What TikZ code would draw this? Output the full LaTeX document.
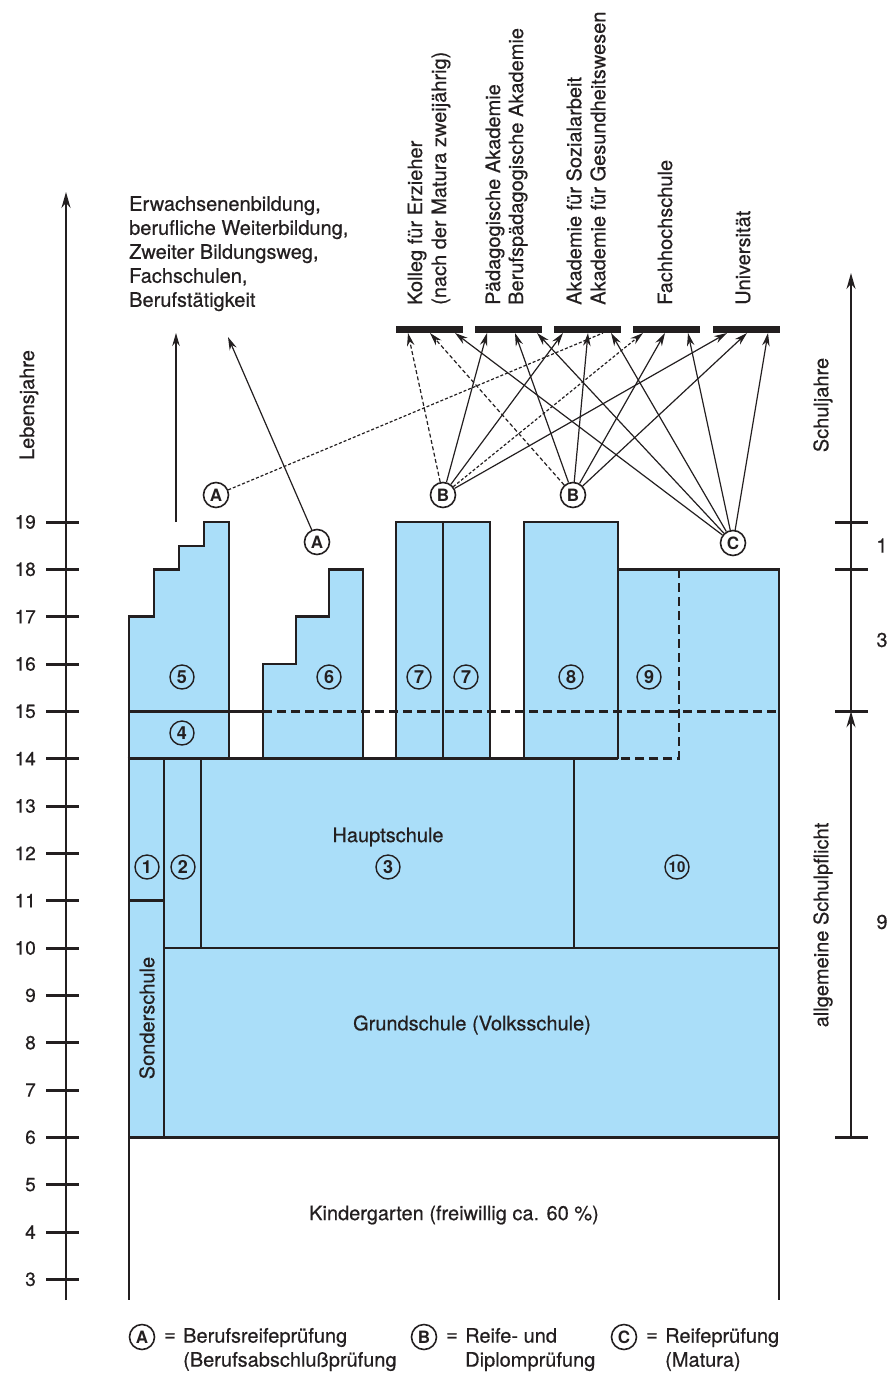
\documentclass[tikz,border=0pt]{standalone}
\usepackage{fontspec}
\setmainfont{TeX Gyre Heros}[FakeBold=0.5]
\newfontfamily\circfont{TeX Gyre Heros Bold}
\usetikzlibrary{arrows.meta}
\definecolor{schulblau}{RGB}{170,222,249}
\definecolor{ink}{RGB}{35,31,32}
\begin{document}
\begin{tikzpicture}[x=1pt,y=-1pt,
  every node/.style={text=ink, inner sep=0pt},
  txt/.style={font=\fontsize{20}{24}\selectfont},
  axnum/.style={font=\fontsize{19}{22}\selectfont, anchor=east},
  edge/.style={draw=ink, line width=2.6pt, line join=miter},
  dashedge/.style={draw=ink, line width=2.6pt, dash pattern=on 9pt off 5pt},
  letter/.style={circle, draw=ink, line width=1.6pt, minimum size=25pt, font=\fontsize{17}{17}\circfont},
  numcirc/.style={circle, draw=ink, line width=1.4pt, minimum size=24pt, font=\fontsize{18}{18}\circfont},
  bar/.style={fill=ink, minimum width=67pt, minimum height=7pt},
  conn/.style={draw=ink, line width=1.2pt, -{Stealth[length=13pt,width=7.5pt]}},
  dconn/.style={conn, dash pattern=on 4pt off 2.5pt},
  dotconn/.style={conn, dash pattern=on 3pt off 2pt},
  axis/.style={draw=ink, line width=2pt},
  axarrow/.style={axis, -{Stealth[length=16pt,width=9pt]}},
  tick/.style={draw=ink, line width=3pt},
  rottxt/.style={txt, rotate=90, anchor=west},
]
\useasboundingbox (0,0) rectangle (887,1373);

% ---------- fills ----------
\fill[schulblau] (129,758.7)--(129,616.7)--(154,616.7)--(154,569.3)--(179,569.3)--(179,546)--(204,546)--(204,522)--(229,522)--(229,758.7)--cycle;
\fill[schulblau] (263,758.7)--(263,664)--(296,664)--(296,616.7)--(329,616.7)--(329,569.3)--(363,569.3)--(363,758.7)--cycle;
\fill[schulblau] (396,522) rectangle (490,758.7);
\fill[schulblau] (524,522) rectangle (618,758.7);
\fill[schulblau] (618,569.3) rectangle (779,758.7);
\fill[schulblau] (129,758.7) rectangle (779,1137.3);

% ---------- outlines ----------
\draw[edge] (129,758.7)--(129,616.7)--(154,616.7)--(154,569.3)--(179,569.3)--(179,546)--(204,546)--(204,522)--(229,522)--(229,758.7);
\draw[edge] (263,758.7)--(263,664)--(296,664)--(296,616.7)--(329,616.7)--(329,569.3)--(363,569.3)--(363,758.7);
\draw[edge] (396,758.7)--(396,522)--(490,522)--(490,758.7);
\draw[edge] (443,522)--(443,758.7);
\draw[edge] (524,758.7)--(524,522)--(618,522)--(618,758.7);
\draw[edge] (618,569.3)--(779,569.3)--(779,1300);
\draw[edge] (127.7,758.7)--(618,758.7);
\draw[edge] (129,711.3)--(263,711.3);
\draw[dashedge] (263,711.3)--(779,711.3);
\draw[dashedge] (679,569.3)--(679,758.7)--(618,758.7);
\draw[edge] (129,758.7)--(129,1300);
\draw[edge] (164,758.7)--(164,1137.3);
\draw[edge] (129,900.7)--(164,900.7);
\draw[edge] (201,758.7)--(201,948);
\draw[edge] (574,758.7)--(574,948);
\draw[edge] (164,948)--(779,948);
\draw[edge] (129,1137.3)--(779,1137.3);

% ---------- box labels ----------
\node[numcirc] (n5) at (182,677) {5};
\node[numcirc] (n4) at (182,733) {4};
\node[numcirc] (n6) at (329,677) {6};
\node[numcirc] (n7a) at (419,677) {7};
\node[numcirc] (n7b) at (466,677) {7};
\node[numcirc] (n8) at (571,677) {8};
\node[numcirc] (n9) at (649,677) {9};
\node[numcirc] (n1) at (147,867) {1};
\node[numcirc] (n2) at (183,867) {2};
\node[numcirc] (n3) at (388,867) {3};
\node[numcirc, font=\fontsize{15}{15}\circfont] (n10) at (677,867) {10};
\node[txt] (haupt) at (388,837) {Hauptschule};
\node[txt] (grund) at (472,1025) {Grundschule (Volksschule)};
\node[txt, rotate=90] (sonder) at (147,1018) {Sonderschule};
\node[txt] (kiga) at (454,1215) {Kindergarten (freiwillig ca. 60 \%)};

% ---------- left axis ----------
\coordinate (laxb) at (66,1300);
\coordinate (laxt) at (66,192);
\draw[axarrow] (laxb) -- (laxt);
\foreach \a/\yy in {19/522,18/569.3,17/616.7,16/664,15/711.3,14/758.7,13/806,12/853.3,11/900.7,10/948,9/995.3,8/1042.7,7/1090,6/1137.3,5/1184.7,4/1232,3/1279.3}{
  \draw[tick] (46,\yy) -- (79,\yy);
  \node[axnum] (age\a) at (36,\yy) {\a};
}
\node[txt, rotate=90] (lebens) at (29,405) {Lebensjahre};

% ---------- right axis ----------
\coordinate (r19) at (851,522);
\coordinate (r15) at (851,711.3);
\coordinate (r6) at (851,1137.3);
\coordinate (rtop) at (851,273);
\draw[axis] (r19) -- (r15);
\draw[axarrow] (r19) -- (rtop);
\draw[axarrow] (r6) -- (r15);
\foreach \yy in {522,569.3,711.3,1137.3}{
  \draw[tick] (835,\yy) -- (868,\yy);
}
\node[txt] (sj1) at (882,545.5) {1};
\node[txt] (sj3) at (882,640) {3};
\node[txt] (sj9) at (882,922) {9};
\node[txt, rotate=90] (schuljahre) at (823,405) {Schuljahre};
\node[txt, rotate=90] (pflicht) at (823,925) {allgemeine Schulpflicht};

% ---------- top text ----------
\node[txt, anchor=north west, align=left] (erw) at (129,196) {Erwachsenenbildung,\\berufliche Weiterbildung,\\Zweiter Bildungsweg,\\Fachschulen,\\Berufst\"atigkeit};

\node[rottxt] (t1a) at (417,305) {Kolleg f\"ur Erzieher};
\node[rottxt] (t1b) at (441,305) {(nach der Matura zweij\"ahrig)};
\node[rottxt] (t2a) at (495,305) {P\"adagogische Akademie};
\node[rottxt] (t2b) at (518,305) {Berufsp\"adagogische Akademie};
\node[rottxt] (t3a) at (574,305) {Akademie f\"ur Sozialarbeit};
\node[rottxt] (t3b) at (598,305) {Akademie f\"ur Gesundheitswesen};
\node[rottxt] (t4) at (665,305) {Fachhochschule};
\node[rottxt] (t5) at (743,305) {Universit\"at};

\node[bar] (bar1) at (429.5,329.5) {};
\node[bar] (bar2) at (508.5,329.5) {};
\node[bar] (bar3) at (587.5,329.5) {};
\node[bar] (bar4) at (666.5,329.5) {};
\node[bar] (bar5) at (746,329.5) {};

% ---------- exam circles ----------
\node[letter] (A1) at (216,495) {A};
\node[letter] (A2) at (317,542) {A};
\node[letter] (B1) at (443,495) {B};
\node[letter] (B2) at (573,495) {B};
\node[letter] (C) at (733,543) {C};

% arrow targets on the bars
\coordinate (k1a) at (408,333);
\coordinate (k1b) at (430,333);
\coordinate (k1c) at (455,333);
\coordinate (k2a) at (487,333);
\coordinate (k2b) at (515,333);
\coordinate (k2c) at (537,333);
\coordinate (k3a) at (563,333);
\coordinate (k3b) at (588,333);
\coordinate (k3x) at (603,333);
\coordinate (k3c) at (611,333);
\coordinate (k4a) at (643,333);
\coordinate (k4b) at (665,333);
\coordinate (k4c) at (688,333);
\coordinate (k5a) at (727,333);
\coordinate (k5b) at (747,333);
\coordinate (k5c) at (768,333);

\draw[dconn] (B1) -- (k1a);
\draw[conn] (B1) -- (k2a);
\draw[conn] (B1) -- (k3a);
\draw[dotconn] (B1) -- (k4a);
\draw[conn] (B1) -- (k5a);

\draw[dconn] (B2) -- (k1b);
\draw[conn] (B2) -- (k2b);
\draw[conn] (B2) -- (k3b);
\draw[conn] (B2) -- (k4b);
\draw[conn] (B2) -- (k5b);

\draw[conn] (C) -- (k1c);
\draw[conn] (C) -- (k2c);
\draw[conn] (C) -- (k3c);
\draw[conn] (C) -- (k4c);
\draw[conn] (C) -- (k5c);

\draw[draw=ink, line width=1.2pt, dash pattern=on 3pt off 2pt] (A1) -- (k3x);

% arrows to Erwachsenenbildung
\coordinate (vbot) at (176,522);
\coordinate (vtop) at (176,333);
\coordinate (atop) at (228,337);
\draw[conn] (vbot) -- (vtop);
\draw[conn] (A2) -- (atop);

% ---------- legend ----------
\node[letter] (LA) at (142,1337) {A};
\node[txt] (eqA) at (170,1337) {=};
\node[txt, anchor=west, align=left] (legA) at (183,1349.5) {Berufsreifepr\"ufung\\(Berufsabschlu\ss pr\"ufung};
\node[letter] (LB) at (424,1337) {B};
\node[txt] (eqB) at (452,1337) {=};
\node[txt, anchor=west, align=left] (legB) at (465,1349.5) {Reife- und\\Diplompr\"ufung};
\node[letter] (LC) at (624,1337) {C};
\node[txt] (eqC) at (652,1337) {=};
\node[txt, anchor=west, align=left] (legC) at (665,1349.5) {Reifepr\"ufung\\(Matura)};
\end{tikzpicture}
\end{document}
